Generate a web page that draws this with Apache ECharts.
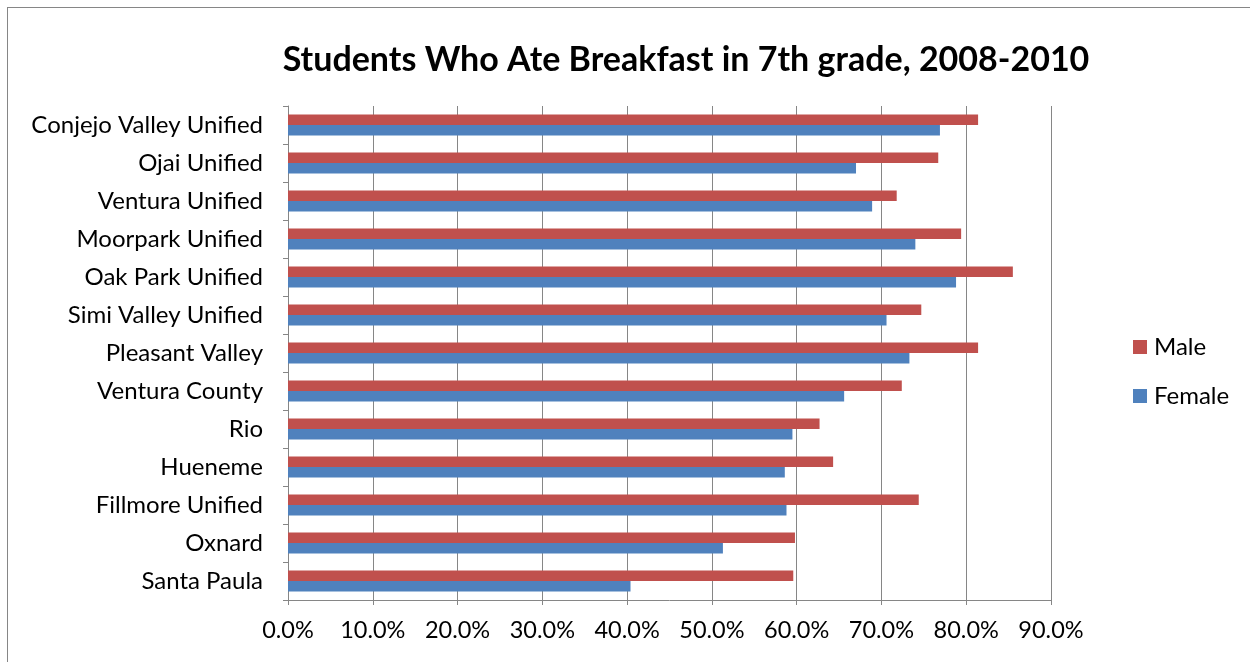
<!DOCTYPE html>
<html>
<head>
<meta charset="utf-8">
<script src="https://cdn.jsdelivr.net/npm/echarts@6/dist/echarts.min.js"></script>
<style>
html,body{margin:0;padding:0;background:#fff;}
#frame{position:absolute;left:7px;top:7px;width:1250px;height:670px;border:1px solid #868686;box-sizing:border-box;}
#chart{position:absolute;left:0;top:0;width:1250px;height:662px;}
</style>
</head>
<body>
<div id="frame"></div>
<div id="chart"></div>
<script>
const categories = ["Conjejo Valley Unified","Ojai Unified","Ventura Unified","Moorpark Unified","Oak Park Unified","Simi Valley Unified","Pleasant Valley","Ventura County","Rio","Hueneme","Fillmore Unified","Oxnard","Santa Paula"];
const maleValues = [81.4,76.7,71.8,79.4,85.5,74.7,81.4,72.4,62.7,64.3,74.4,59.8,59.6];
const femaleValues = [76.9,67.0,68.9,74.0,78.8,70.6,73.3,65.6,59.5,58.6,58.8,51.3,40.4];
const seriesNames = ["Male","Female"];

const FONT = 'Lato';
const chart = echarts.init(document.getElementById('chart'), null, {renderer:'canvas'});
chart.setOption({
  animation:false,
  backgroundColor:'transparent',
  title:{
    text:'Students Who Ate Breakfast in 7th grade, 2008-2010',
    left:681, top:38, textAlign:'center',
    textStyle:{fontFamily:FONT,fontWeight:'bold',fontSize:34,color:'#000'}
  },
  legend:{
    orient:'vertical', left:1128, top:330,
    icon:'rect', itemWidth:14, itemHeight:14, itemGap:25,
    data:seriesNames,
    textStyle:{fontFamily:FONT,fontSize:24,color:'#000',padding:[0,0,0,2]}
  },
  grid:{left:288, right:199, top:106, bottom:62, containLabel:false},
  xAxis:{
    type:'value', min:0, max:90, interval:10,
    axisLine:{show:true,lineStyle:{color:'#868686',width:1}},
    axisTick:{show:true,length:5,lineStyle:{color:'#868686'}},
    splitLine:{show:true,lineStyle:{color:'#868686',width:1}},
    axisLabel:{formatter:v=>v.toFixed(1)+'%',fontFamily:FONT,fontSize:23.5,color:'#000',margin:18}
  },
  yAxis:{
    type:'category', data:categories, inverse:true,
    axisLine:{show:true,lineStyle:{color:'#868686',width:1}},
    axisTick:{show:true,length:5,lineStyle:{color:'#868686'}},
    axisLabel:{fontFamily:FONT,fontSize:24,color:'#000',margin:25}
  },
  series:[
    {name:seriesNames[0],type:'bar',data:maleValues,barWidth:10.5,barGap:'0%',itemStyle:{color:'#C0504D'}},
    {name:seriesNames[1],type:'bar',data:femaleValues,barWidth:10.5,barGap:'0%',itemStyle:{color:'#4F81BD'}}
  ]
});
</script>
</body>
</html>
